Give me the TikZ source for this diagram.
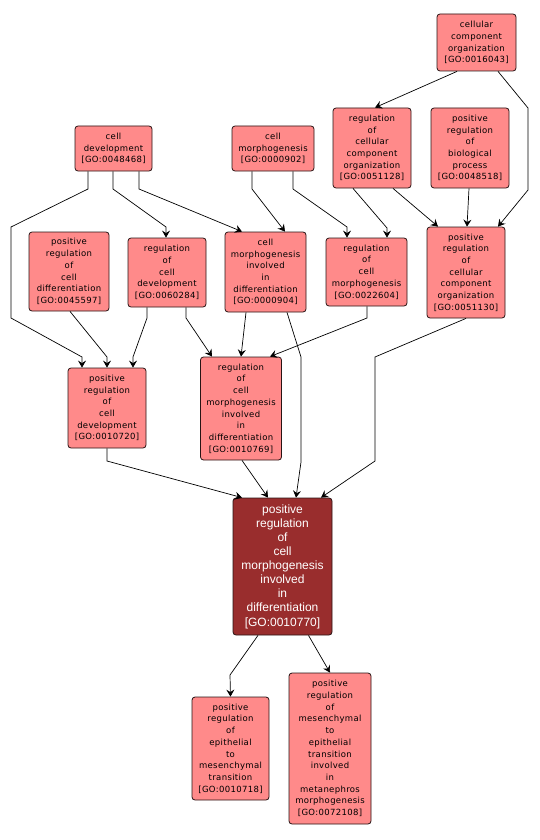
\documentclass[tikz,border=0pt]{standalone}
\usepackage{fontspec}
\usepackage{tikz}
\usetikzlibrary{arrows.meta}
\newfontfamily\termfont[LetterSpace=4]{DejaVu Sans}
\newfontfamily\hubfont{Liberation Sans}
\definecolor{termfill}{RGB}{255,138,138}
\definecolor{hubfill}{RGB}{153,45,45}
\definecolor{termline}{RGB}{40,20,20}

\begin{document}
\begin{tikzpicture}[x=1pt,y=-1pt,
  term/.style={draw=termline,line width=0.8pt,fill=termfill,rounded corners=3pt,inner sep=0pt,align=center,
    font=\fontsize{8.5}{11.7}\selectfont\termfont},
  hub/.style={term,fill=hubfill,text=white,font=\fontsize{12}{14.1}\selectfont\hubfont},
  edge/.style={draw=black,line width=0.7pt,-{Stealth[length=7pt,width=8pt,inset=2.5pt]}}]
\useasboundingbox (0,0) rectangle (539,840);
\node[term,minimum width=79pt,minimum height=57pt] (cco) at (476.5,42.5) {cellular\\component\\organization\\{[GO:0016043]}};
\node[term,minimum width=77pt,minimum height=45pt] (cd) at (113.5,148.5) {cell\\development\\{[GO:0048468]}};
\node[term,minimum width=82pt,minimum height=45pt] (cm) at (273,148.5) {cell\\morphogenesis\\{[GO:0000902]}};
\node[term,minimum width=78pt,minimum height=80pt] (rcco) at (372,148) {regulation\\of\\cellular\\component\\organization\\{[GO:0051128]}};
\node[term,minimum width=78pt,minimum height=80pt] (prbp) at (470,148) {positive\\regulation\\of\\biological\\process\\{[GO:0048518]}};
\node[term,minimum width=80pt,minimum height=79pt] (prcdiff) at (69,271.5) {positive\\regulation\\of\\cell\\differentiation\\{[GO:0045597]}};
\node[term,minimum width=78pt,minimum height=69pt] (rcdev) at (167,272.5) {regulation\\of\\cell\\development\\{[GO:0060284]}};
\node[term,minimum width=81pt,minimum height=80pt] (cmid) at (265.5,272) {cell\\morphogenesis\\involved\\in\\differentiation\\{[GO:0000904]}};
\node[term,minimum width=81pt,minimum height=68pt] (rcm) at (366.5,272) {regulation\\of\\cell\\morphogenesis\\{[GO:0022604]}};
\node[term,minimum width=78pt,minimum height=91pt] (prcco) at (466,272.5) {positive\\regulation\\of\\cellular\\component\\organization\\{[GO:0051130]}};
\node[term,minimum width=78pt,minimum height=80pt] (prcdev) at (107,408) {positive\\regulation\\of\\cell\\development\\{[GO:0010720]}};
\node[term,minimum width=81pt,minimum height=103pt] (rcmid) at (241,408.5) {regulation\\of\\cell\\morphogenesis\\involved\\in\\differentiation\\{[GO:0010769]}};
\node[hub,minimum width=99pt,minimum height=137pt] (pcmid) at (282.5,566.5) {positive\\regulation\\of\\cell\\morphogenesis\\involved\\in\\differentiation\\{[GO:0010770]}};
\node[term,minimum width=77pt,minimum height=103pt] (pemt) at (230.5,748.5) {positive\\regulation\\of\\epithelial\\to\\mesenchymal\\transition\\{[GO:0010718]}};
\node[term,minimum width=82pt,minimum height=151pt] (pmet) at (330,748.5) {positive\\regulation\\of\\mesenchymal\\to\\epithelial\\transition\\involved\\in\\metanephros\\morphogenesis\\{[GO:0072108]}};
\draw[edge] ([xshift=-19.5pt]cco.south) -- ([xshift=3pt]rcco.north);
\draw[edge] ([xshift=21.5pt]cco.south) -- (528,108) -- (528,190) -- ([xshift=32pt]prcco.north);
\draw[edge] ([xshift=-25.5pt]cd.south) -- (88,189) -- (11,227) -- (11,318) -- (82,357) -- ([xshift=-25pt]prcdev.north);
\draw[edge] ([xshift=-0.5pt]cd.south) -- (113,189) -- (166,227) -- ([xshift=-1pt]rcdev.north);
\draw[edge] ([xshift=25.5pt]cd.south) -- (139,189) -- ([xshift=-23.5pt]cmid.north);
\draw[edge] ([xshift=-21pt]cm.south) -- (252,189) -- ([xshift=19.5pt]cmid.north);
\draw[edge] ([xshift=20pt]cm.south) -- (293,189) -- (347,227) -- ([xshift=-19.5pt]rcm.north);
\draw[edge] ([xshift=-19pt]rcco.south) -- (387,228) -- ([xshift=20.5pt]rcm.north);
\draw[edge] ([xshift=21pt]rcco.south) -- ([xshift=-28pt]prcco.north);
\draw[edge] ([xshift=-1pt]prbp.south) -- ([xshift=1pt]prcco.north);
\draw[edge] ([xshift=1pt]prcdiff.south) -- (107,357) -- (prcdev.north);
\draw[edge] ([xshift=-20pt]rcdev.south) -- (147,318) -- (133,357) -- ([xshift=26pt]prcdev.north);
\draw[edge] ([xshift=19pt]rcdev.south) -- (186,318) -- ([xshift=-29pt]rcmid.north);
\draw[edge] ([xshift=-19.5pt]cmid.south) -- (rcmid.north);
\draw[edge] ([xshift=21.5pt]cmid.south) -- (301,357) -- (301,462) -- ([xshift=13.5pt]pcmid.north);
\draw[edge] ([xshift=0.5pt]rcm.south) -- (367,318) -- ([xshift=29pt]rcmid.north);
\draw[edge] (prcco.south) -- (375,357) -- (375,461) -- ([xshift=38.5pt]pcmid.north);
\draw[edge] (prcdev.south) -- (107,461) -- ([xshift=-40.5pt]pcmid.north);
\draw[edge] ([xshift=1pt]rcmid.south) -- ([xshift=-14.5pt]pcmid.north);
\draw[edge] ([xshift=-24.5pt]pcmid.south) -- (230,675) -- (pemt.north);
\draw[edge] ([xshift=26pt]pcmid.south) -- (pmet.north);
\end{tikzpicture}
\end{document}
